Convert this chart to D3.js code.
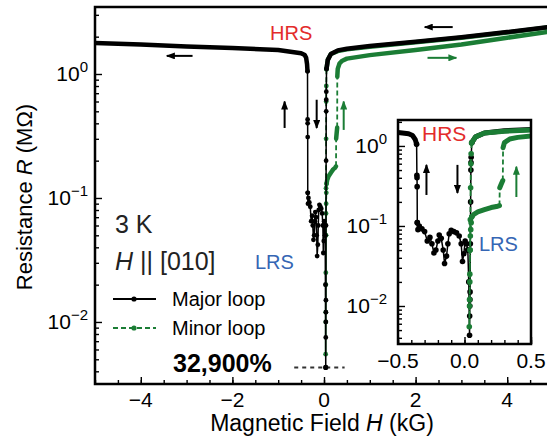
<!DOCTYPE html>
<html>
<head>
<meta charset="utf-8">
<script src="https://cdn.jsdelivr.net/npm/d3@7"></script>
<style>
body { margin: 0; background: #fff; }
svg { font-family: "Liberation Sans", Arial, Helvetica, sans-serif; }
</style>
</head>
<body>
<svg id="chart" width="547" height="444"></svg>
<script>
// readings: [H (kG), R (MOhm)], in sweep order
const majorHighPos = [[5,2.42],[4,2.18],[3,1.98],[2,1.82],[1,1.68],[0.5,1.6],[0.3,1.55],[0.15,1.45],[0.083,1.3],[0.055,1.1]];
const majorSwitchDown = [[0.055,1.1],[0.05,0.72],[0.049,0.62],[0.048,0.5],[0.046,0.2],[0.044,0.06],[0.042,0.015],[0.041,0.012],[0.04,0.01],[0.039,0.0075],[0.038,0.0043],[0.032,0.02],[0.025,0.05]];
const majorLow = [[0.025,0.05],[0.015,0.06],[0.005,0.065],[-0.005,0.045],[-0.015,0.036],[-0.025,0.06],[-0.04,0.075],[-0.06,0.082],[-0.08,0.085],[-0.1,0.088],[-0.115,0.08],[-0.125,0.06],[-0.135,0.042],[-0.15,0.034],[-0.16,0.05],[-0.175,0.07],[-0.19,0.077],[-0.2,0.065],[-0.215,0.05],[-0.23,0.046],[-0.245,0.06],[-0.26,0.072],[-0.28,0.065],[-0.3,0.085],[-0.32,0.092],[-0.34,0.1],[-0.35,0.09],[-0.355,0.11]];
const majorSwitchUp = [[-0.355,0.11],[-0.356,0.31],[-0.357,0.4],[-0.358,0.43],[-0.36,1.05]];
const majorHighNeg = [[-0.36,1.05],[-0.37,1.2],[-0.39,1.35],[-0.42,1.42],[-0.5,1.47],[-1,1.56],[-2,1.62],[-3,1.67],[-4,1.73],[-5,1.78]];

const minorHighDown = [[5,2.4],[4,2.16],[3,1.96],[2,1.8],[1,1.66],[0.5,1.58],[0.3,1.53],[0.15,1.45],[0.083,1.3],[0.053,1.09]];
const minorSwitchDown = [[0.053,1.09],[0.05,0.8],[0.048,0.6],[0.046,0.3],[0.044,0.12],[0.042,0.05],[0.04,0.02],[0.038,0.01],[0.036,0.0055],[0.038,0.012],[0.04,0.025],[0.042,0.05],[0.044,0.075],[0.047,0.09],[0.05,0.11],[0.055,0.13]];
const minorLow = [[0.055,0.13],[0.07,0.14],[0.1,0.15],[0.15,0.16],[0.2,0.17],[0.24,0.175],[0.263,0.18]];
const minorSwitch1 = [[0.263,0.18],[0.265,0.3]];
const minorMid = [[0.265,0.3],[0.275,0.33],[0.288,0.37]];
const minorSwitch2 = [[0.288,0.37],[0.29,0.95]];
const minorHighUp = [[0.29,0.95],[0.3,1.1],[0.34,1.22],[0.4,1.28],[0.5,1.33],[1,1.42],[2,1.56],[3,1.73],[4,1.96],[5,2.22]];

// ticks
const mainXTicks = [-4, -2, 0, 2, 4];
const mainXLabels = ['\u22124', '\u22122', '0', '2', '4'];
const insetXTicks = [-0.5, 0, 0.5];
const insetXLabels = ['\u22120.5', '0.0', '0.5'];
const yTickExps = [0, -1, -2];

// arrows, data coords [from, to]
const mainArrowsBlack = [[[-2.87,1.4],[-3.43,1.4]], [[2.81,2.39],[2.2,2.39]], [[-0.86,0.367],[-0.86,0.6]], [[-0.16,0.62],[-0.16,0.367]]];
const mainArrowsGreen = [[[2.26,1.35],[2.89,1.35]], [[0.43,0.354],[0.43,0.6]]];
const insetArrowsBlack = [[[-0.286,0.244],[-0.286,0.58]], [[-0.053,0.58],[-0.053,0.258]]];
const insetArrowsGreen = [[[0.39,0.23],[0.39,0.55]]];

const black = '#000';
const green = '#1b7d35';
const red = '#e32b2b';
const blue = '#3566b4';

const svg = d3.select('#chart');

const defs = svg.append('defs');
[['headBlack', black], ['headGreen', green]].forEach(([id, c]) => {
    defs.append('marker').attr('id', id)
        .attr('markerUnits', 'userSpaceOnUse')
        .attr('markerWidth', 9).attr('markerHeight', 7)
        .attr('refX', 8).attr('refY', 3.5).attr('orient', 'auto')
        .append('path').attr('d', 'M0,0 L9,3.5 L0,7 Z').attr('fill', c);
});

const minorTicksLog = (domain) => {
    let out = [];
    for (let e = -3; e <= 0; e++) {
        for (let m = 2; m <= 9; m++) {
            let v = m * Math.pow(10, e);
            if (v >= domain[0] && v <= domain[1]) out.push(v);
        }
    }
    return out;
};

const drawLoops = (g, x, y, sz, minorFirst) => {
    const line = d3.line().x(d => x(d[0])).y(d => y(d[1]));
    const major = () => {
        [majorHighPos, majorHighNeg].forEach(s => {
            g.append('path').attr('d', line(s)).attr('fill', 'none')
                .attr('stroke', black).attr('stroke-width', sz.thick)
                .attr('stroke-linecap', 'round').attr('stroke-linejoin', 'round');
        });
        [majorSwitchDown, majorLow, majorSwitchUp].forEach(s => {
            g.append('path').attr('d', line(s)).attr('fill', 'none')
                .attr('stroke', black).attr('stroke-width', sz.thin);
            g.selectAll(null).data(s).enter().append('circle')
                .attr('cx', d => x(d[0])).attr('cy', d => y(d[1]))
                .attr('r', sz.r).attr('fill', black);
        });
    };
    const minor = () => {
        [minorSwitchDown, minorSwitch1, minorSwitch2].forEach(s => {
            g.append('path').attr('d', line(s)).attr('fill', 'none')
                .attr('stroke', green).attr('stroke-width', sz.thin + 0.3)
                .attr('stroke-dasharray', '5,3');
        });
        g.selectAll(null).data(minorSwitchDown).enter().append('circle')
            .attr('cx', d => x(d[0])).attr('cy', d => y(d[1]))
            .attr('r', sz.r).attr('fill', green);
        [minorHighDown, minorLow, minorMid, minorHighUp].forEach(s => {
            g.append('path').attr('d', line(s)).attr('fill', 'none')
                .attr('stroke', green).attr('stroke-width', sz.thick)
                .attr('stroke-linecap', 'round').attr('stroke-linejoin', 'round');
        });
    };
    if (minorFirst) { minor(); major(); } else { major(); minor(); }
};

const drawArrows = (g, x, y, arrows, color, head) => {
    g.selectAll(null).data(arrows).enter().append('line')
        .attr('x1', d => x(d[0][0])).attr('y1', d => y(d[0][1]))
        .attr('x2', d => x(d[1][0])).attr('y2', d => y(d[1][1]))
        .attr('stroke', color).attr('stroke-width', 2)
        .attr('marker-end', `url(#${head})`);
};

const drawAxes = (g, x, y, xTicks, xLabels, xMinor, yRight, labelGap) => {
    const yDom = y.domain();
    const [x0, x1] = x.range();
    const [yb, yt] = y.range();
    g.append('g').attr('transform', `translate(0,${yb})`)
        .call(d3.axisBottom(x).tickValues(xMinor).tickSize(-4).tickFormat(''))
        .call(a => a.select('.domain').remove());
    g.append('g').attr('transform', `translate(0,${yb})`)
        .call(d3.axisBottom(x).tickValues(xTicks).tickSize(-7).tickFormat(''))
        .call(a => a.select('.domain').remove());
    g.append('g').attr('transform', `translate(${x0},0)`)
        .call(d3.axisLeft(y).tickValues(minorTicksLog(yDom)).tickSize(-4).tickFormat(''))
        .call(a => a.select('.domain').remove());
    g.append('g').attr('transform', `translate(${x0},0)`)
        .call(d3.axisLeft(y).tickValues(yTickExps.map(e => Math.pow(10, e))).tickSize(-7).tickFormat(''))
        .call(a => a.select('.domain').remove());
    g.selectAll('.tick line').attr('stroke', black).attr('stroke-width', 1.4);

    g.append('rect').attr('x', x0).attr('y', yt)
        .attr('width', x1 - x0).attr('height', yb - yt)
        .attr('fill', 'none').attr('stroke', black).attr('stroke-width', 2.5);

    xTicks.forEach((v, i) => {
        g.append('text').attr('x', x(v)).attr('y', yb + labelGap)
            .attr('text-anchor', 'middle').attr('font-size', 21).text(xLabels[i]);
    });
    yTickExps.forEach(e => {
        let t = g.append('text').attr('x', yRight).attr('y', y(Math.pow(10, e)) + 7.5)
            .attr('text-anchor', 'end').attr('font-size', 21);
        t.append('tspan').text('10');
        t.append('tspan').attr('dy', -9).attr('font-size', 15)
            .text(e === 0 ? '0' : '\u2212' + Math.abs(e));
    });
};

// main panel
const x = d3.scaleLinear().domain([-5, 5]).range([95, 553]);
const y = d3.scaleLog().domain([0.00316, 3.47]).range([384, 7]);

svg.append('clipPath').attr('id', 'clipMain').append('rect')
    .attr('x', 95).attr('y', 7).attr('width', 458).attr('height', 377);
const gMain = svg.append('g').attr('clip-path', 'url(#clipMain)');
drawLoops(gMain, x, y, {thick: 4.5, thin: 1.5, r: 2.4}, true);
drawArrows(svg, x, y, mainArrowsBlack, black, 'headBlack');
drawArrows(svg, x, y, mainArrowsGreen, green, 'headGreen');

// dotted guide at minimum
svg.append('line').attr('x1', x(-0.65)).attr('x2', x(0.45))
    .attr('y1', y(0.0043)).attr('y2', y(0.0043))
    .attr('stroke', '#333').attr('stroke-width', 2).attr('stroke-dasharray', '4,4');
svg.append('circle').attr('cx', x(0.038)).attr('cy', y(0.0043)).attr('r', 2.6).attr('fill', black);

drawAxes(svg.append('g'), x, y, mainXTicks, mainXLabels, d3.range(-5, 5.01, 0.5), 88, 23);

svg.append('text').attr('x', 322).attr('y', 431).attr('text-anchor', 'middle').attr('font-size', 23)
    .call(t => {
        t.append('tspan').text('Magnetic Field ');
        t.append('tspan').attr('font-style', 'italic').text('H');
        t.append('tspan').text(' (kG)');
    });
svg.append('text').attr('transform', 'translate(32,197) rotate(-90)').attr('text-anchor', 'middle').attr('font-size', 22)
    .call(t => {
        t.append('tspan').text('Resistance ');
        t.append('tspan').attr('font-style', 'italic').text('R');
        t.append('tspan').text(' (M\u03A9)');
    });

// annotations
svg.append('text').attr('x', 270).attr('y', 40).attr('font-size', 20).attr('fill', red).text('HRS');
svg.append('text').attr('x', 255).attr('y', 269).attr('font-size', 20).attr('fill', blue).text('LRS');
svg.append('text').attr('x', 115).attr('y', 233).attr('font-size', 25).attr('fill', '#222').text('3 K');
svg.append('text').attr('x', 115).attr('y', 270).attr('font-size', 25).attr('fill', '#222')
    .call(t => {
        t.append('tspan').attr('font-style', 'italic').text('H');
        t.append('tspan').text(' || [010]');
    });
svg.append('text').attr('x', 173).attr('y', 372).attr('font-size', 25).attr('font-weight', 'bold').text('32,900%');

// legend
const legend = svg.append('g');
legend.append('line').attr('x1', 113).attr('x2', 156).attr('y1', 299).attr('y2', 299)
    .attr('stroke', black).attr('stroke-width', 1.8);
legend.append('circle').attr('cx', 134).attr('cy', 299).attr('r', 2.6).attr('fill', black);
legend.append('text').attr('x', 172).attr('y', 306).attr('font-size', 20).text('Major loop');
legend.append('line').attr('x1', 113).attr('x2', 156).attr('y1', 328).attr('y2', 328)
    .attr('stroke', green).attr('stroke-width', 1.8).attr('stroke-dasharray', '5,3');
legend.append('circle').attr('cx', 134).attr('cy', 328).attr('r', 2.6).attr('fill', green);
legend.append('text').attr('x', 172).attr('y', 335).attr('font-size', 20).text('Minor loop');

// inset
const xi = d3.scaleLinear().domain([-0.5, 0.5]).range([398, 531]);
const yi = d3.scaleLog().domain([0.00335, 2.11]).range([344, 120]);

svg.append('rect').attr('x', 398).attr('y', 120).attr('width', 133).attr('height', 224).attr('fill', '#fff');
svg.append('clipPath').attr('id', 'clipInset').append('rect')
    .attr('x', 398).attr('y', 120).attr('width', 133).attr('height', 224);
const gInset = svg.append('g').attr('clip-path', 'url(#clipInset)');
drawLoops(gInset, xi, yi, {thick: 5, thin: 1.5, r: 2.8}, false);
drawArrows(svg, xi, yi, insetArrowsBlack, black, 'headBlack');
drawArrows(svg, xi, yi, insetArrowsGreen, green, 'headGreen');
drawAxes(svg.append('g'), xi, yi, insetXTicks, insetXLabels, d3.range(-0.5, 0.501, 0.1), 387, 24);

svg.append('text').attr('x', 422).attr('y', 141).attr('font-size', 21).attr('fill', red).text('HRS');
svg.append('text').attr('x', 479).attr('y', 251).attr('font-size', 20).attr('fill', blue).text('LRS');
</script>
</body>
</html>
